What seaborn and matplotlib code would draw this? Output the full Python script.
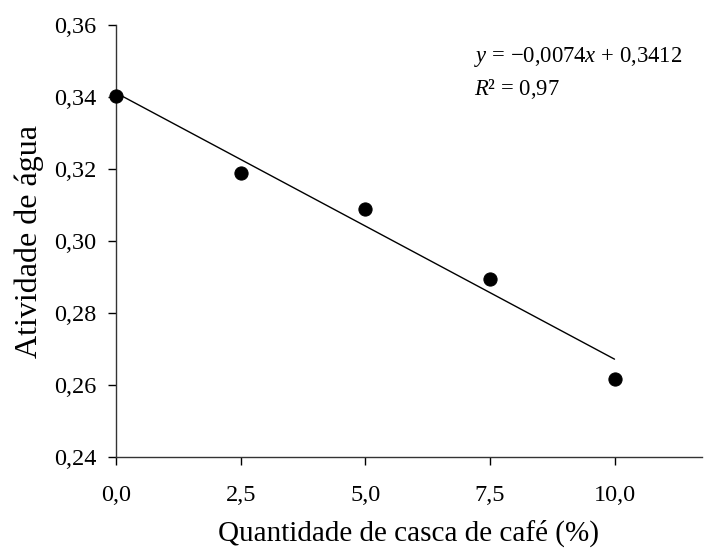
import matplotlib
matplotlib.use("Agg")
import matplotlib.pyplot as plt
import seaborn as sns
import pandas as pd

# Water activity vs. coffee husk content
casca = [0.0, 2.5, 5.0, 7.5, 10.0]
atividade = [0.3403, 0.3189, 0.3090, 0.2896, 0.2617]

# Linear fit reported for the data
slope = -0.0074
intercept = 0.3412
r2 = 0.97

x_ticks = [0.0, 2.5, 5.0, 7.5, 10.0]
x_labels = ["0,0", "2,5", "5,0", "7,5", "10,0"]
y_ticks = [0.24, 0.26, 0.28, 0.30, 0.32, 0.34, 0.36]
y_labels = ["0,24", "0,26", "0,28", "0,30", "0,32", "0,34", "0,36"]

sns.set_theme(style="ticks")
plt.rcParams["font.family"] = ["Liberation Serif", "DejaVu Serif"]
plt.rcParams["mathtext.fontset"] = "custom"
plt.rcParams["mathtext.rm"] = "Liberation Serif"
plt.rcParams["mathtext.it"] = "Liberation Serif:italic"

fig = plt.figure(figsize=(7.04, 5.48), dpi=100)
ax = fig.add_axes([0.1648, 0.166, 0.832, 0.788])

pts = pd.DataFrame({"casca": casca, "aw": atividade})
fit_x = [casca[0], casca[-1]]
fit = pd.DataFrame({"casca": fit_x, "aw": [intercept + slope * v for v in fit_x]})

sns.lineplot(data=fit, x="casca", y="aw", ax=ax, color="black", linewidth=1.0)
sns.scatterplot(data=pts, x="casca", y="aw", ax=ax, color="black", s=90,
                edgecolor="black", zorder=5, clip_on=False)

ax.set_xlim(0, 11.75)
ax.set_ylim(0.24, 0.36)
ax.set_xticks(x_ticks)
ax.set_xticklabels(x_labels)
ax.set_yticks(y_ticks)
ax.set_yticklabels(y_labels)
ax.tick_params(axis="both", direction="out", length=6, width=1.0,
               colors="black", labelsize=17.5)
ax.tick_params(axis="x", pad=14)
ax.tick_params(axis="y", pad=8)
for side in ("top", "right"):
    ax.spines[side].set_visible(False)
for side in ("left", "bottom"):
    ax.spines[side].set_color("#333333")
    ax.spines[side].set_linewidth(1.0)

ax.set_xlabel("Quantidade de casca de café (%)", fontsize=21, labelpad=10,
              color="black")
ax.set_ylabel("Atividade de água", fontsize=23, labelpad=7, color="black")

ax.text(0.612, 0.927, "$y$ = \u22120,0074$x$ + 0,3412", transform=ax.transAxes,
        fontsize=16.3, ha="left", va="center", color="black")
ax.text(0.612, 0.852, "$R$\u00b2 = 0,97", transform=ax.transAxes,
        fontsize=16.3, ha="left", va="center", color="black")

fig.savefig("out.png", dpi=100)
